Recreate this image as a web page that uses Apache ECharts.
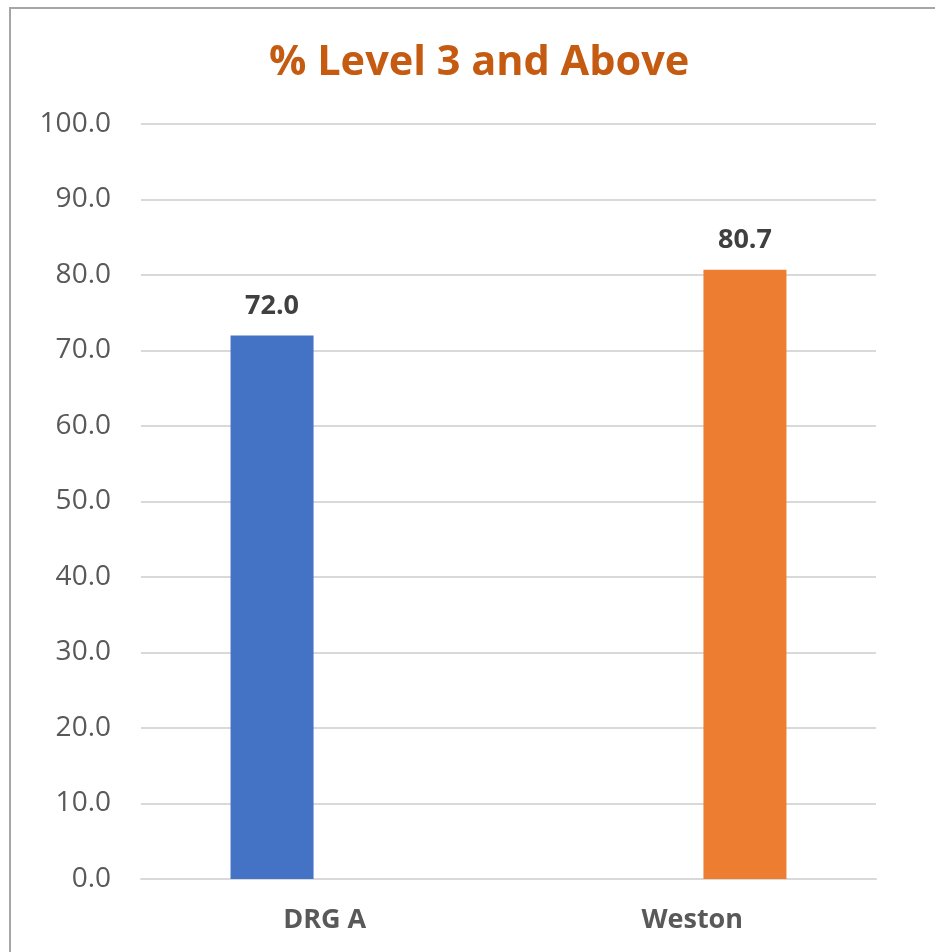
<!DOCTYPE html>
<html>
<head>
<meta charset="utf-8">
<script src="https://cdn.jsdelivr.net/npm/echarts@6/dist/echarts.min.js"></script>
<style>
  html, body { margin: 0; padding: 0; background: #fff; }
  #chart { width: 935px; height: 952px; }
</style>
</head>
<body>
<div id="chart"></div>
<script>
// Share of students at Level 3 and above, by group
const categories = ['DRG A', 'Weston'];
const drgValues = [72.0, null];
const westonValues = [null, 80.7];
const yTicks = { min: 0, max: 100, interval: 10 };

const chart = echarts.init(document.getElementById('chart'));
const font = '"Open Sans", "Noto Sans", sans-serif';

const barLabel = {
  show: true,
  position: 'top',
  distance: 16,
  fontFamily: font,
  fontWeight: 'bold',
  fontSize: 27,
  color: '#404040',
  formatter: p => p.value == null ? '' : Number(p.value).toFixed(1)
};

chart.setOption({
  animation: false,
  backgroundColor: '#ffffff',
  graphic: [{
    type: 'rect',
    shape: { x: 10, y: 8, width: 1000, height: 1000 },
    style: { fill: 'none', stroke: '#A6A6A6', lineWidth: 2 },
    silent: true
  }],
  title: {
    text: '% Level 3 and Above',
    left: 264,
    top: 37,
    textStyle: {
      fontFamily: font,
      fontWeight: 'bold',
      fontSize: 41.5,
      color: '#C55A11'
    }
  },
  grid: { left: 141, right: 59, top: 124, bottom: 73 },
  xAxis: {
    type: 'category',
    data: categories,
    axisLine: { lineStyle: { color: '#D9D9D9', width: 2 } },
    axisTick: { show: false },
    axisLabel: {
      margin: 28,
      fontFamily: font,
      fontWeight: 'bold',
      fontSize: 27,
      color: '#595959'
    }
  },
  yAxis: {
    type: 'value',
    min: yTicks.min,
    max: yTicks.max,
    interval: yTicks.interval,
    axisLine: { show: false },
    axisTick: { show: false },
    splitLine: { lineStyle: { color: '#D9D9D9', width: 2 } },
    axisLabel: {
      margin: 30,
      fontFamily: font,
      fontSize: 28,
      color: '#595959',
      formatter: v => v.toFixed(1)
    }
  },
  series: [
    {
      name: 'DRG A',
      type: 'bar',
      data: drgValues,
      barWidth: 83,
      barGap: '27%',
      itemStyle: { color: '#4472C4' },
      label: barLabel
    },
    {
      name: 'Weston',
      type: 'bar',
      data: westonValues,
      barWidth: 83,
      barGap: '27%',
      itemStyle: { color: '#ED7D31' },
      label: barLabel
    }
  ]
});
</script>
</body>
</html>
